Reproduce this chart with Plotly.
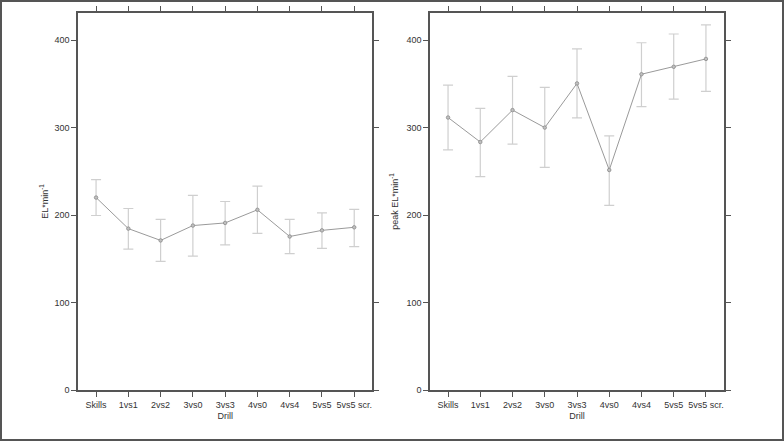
import plotly.graph_objects as go

drills = ["Skills", "1vs1", "2vs2", "3vs0", "3vs3", "4vs0", "4vs4", "5vs5", "5vs5 scr."]

el_mean = [220, 184.5, 171, 188, 191, 206, 175.5, 182.5, 186]
el_up = [20.5, 23, 24, 34.5, 24.5, 27, 19.5, 20, 20.5]
el_down = [20.5, 23.5, 24, 35, 25, 27, 19.5, 20.5, 22]

peak_mean = [311.5, 283.5, 320, 300, 350.5, 251.5, 361, 369.5, 378.5]
peak_up = [37, 38.5, 38.5, 46, 39.5, 39, 36, 37.5, 39]
peak_down = [37, 39.5, 39, 45.5, 39.5, 40.5, 37, 37, 37]

y_ticks = [0, 100, 200, 300, 400]

W, H = 784, 441
ML, MR, MT, MB = 78, 60, 13, 51
PW = W - ML - MR
PH = H - MT - MB

fig = go.Figure()

line_col = "#9a9a9a"
err_col = "#cfcfcf"

for i, (m, up, dn) in enumerate([(el_mean, el_up, el_down), (peak_mean, peak_up, peak_down)]):
    xa = "x" if i == 0 else "x2"
    ya = "y" if i == 0 else "y2"
    fig.add_trace(go.Scatter(
        x=list(range(len(drills))), y=m, xaxis=xa, yaxis=ya,
        mode="lines+markers",
        line=dict(color=line_col, width=1),
        marker=dict(size=3.5, color="#c0c0c0", line=dict(color="#8a8a8a", width=0.8)),
        error_y=dict(type="data", symmetric=False, array=up, arrayminus=dn,
                     color=err_col, thickness=1.2, width=5),
        showlegend=False,
    ))

FONT = "Liberation Sans, Arial, sans-serif"
axis_common = dict(
    showline=True, linecolor="#555555", linewidth=1.5, mirror="ticks",
    ticks="outside", ticklen=5, tickcolor="#555555", tickwidth=1,
    showgrid=False, zeroline=False, automargin=False,
    tickfont=dict(family=FONT, size=9, color="#333333"),
)
title_font = dict(family=FONT, size=9, color="#333333")

xl, xr = -0.56, 8.56
d1 = [0, (372.3 - ML) / PW]
d2 = [(430 - ML) / PW, 1]

fig.update_layout(
    width=W, height=H,
    margin=dict(l=ML, r=MR, t=MT, b=MB, autoexpand=False),
    paper_bgcolor="white", plot_bgcolor="white",
    font=dict(family=FONT, size=9, color="#333333"),
    xaxis=dict(domain=d1, range=[xl, xr], tickmode="array",
               tickvals=list(range(len(drills))), ticktext=drills,
               title=dict(text="Drill", standoff=4, font=title_font), anchor="y", **axis_common),
    xaxis2=dict(domain=d2, range=[xl, xr], tickmode="array",
                tickvals=list(range(len(drills))), ticktext=drills,
                title=dict(text="Drill", standoff=4, font=title_font), anchor="y2", **axis_common),
    yaxis=dict(range=[0, 431], tickvals=y_ticks, anchor="x",
               title=dict(text="EL*min<sup>-1</sup>", standoff=4, font=title_font), **axis_common),
    yaxis2=dict(range=[0, 431], tickvals=y_ticks, anchor="x2",
                title=dict(text="peak EL*min<sup>-1</sup>", standoff=6, font=title_font), **axis_common),
)

# outer frame around whole figure
fig.add_shape(type="rect", xref="paper", yref="paper",
              x0=(1 - ML) / PW, x1=(W - 1 - ML) / PW,
              y0=-(MB - 1) / PH, y1=1 + (MT - 1) / PH,
              line=dict(color="#555555", width=2), fillcolor="rgba(0,0,0,0)", layer="below")

fig.write_html("out.html", config={"displayModeBar": False},
               post_script="document.body.style.margin='0';document.body.style.overflow='hidden';")
